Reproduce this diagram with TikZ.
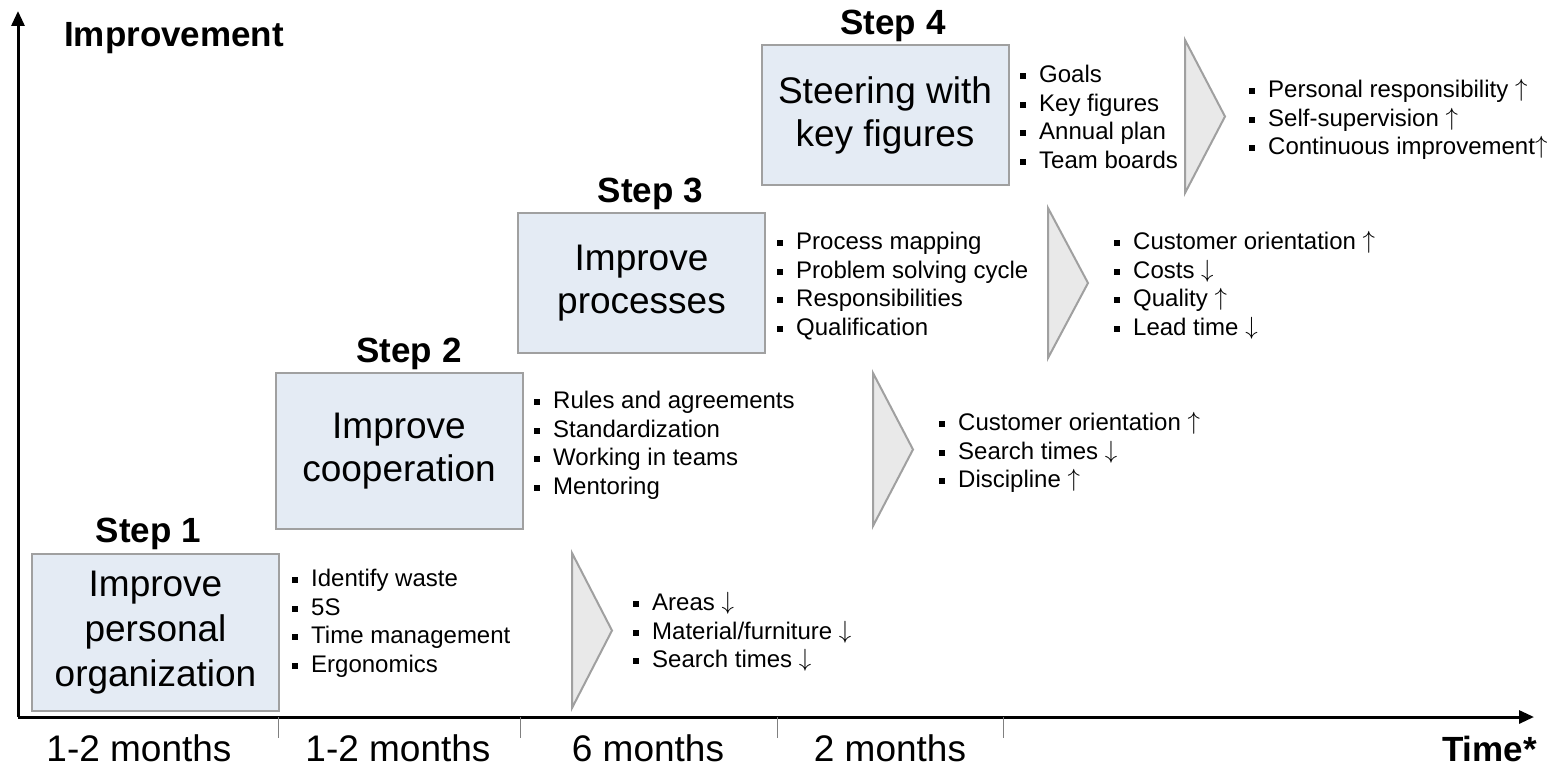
\documentclass[tikz,border=0pt]{standalone}
\usepackage{fontspec}
\setmainfont{Liberation Sans}
\usetikzlibrary{positioning,arrows.meta}
\definecolor{boxfill}{RGB}{228,235,244}
\definecolor{boxline}{RGB}{160,160,160}
\definecolor{chevfill}{RGB}{233,233,233}
\newcommand\incr{\raisebox{1pt}{$\uparrow$}}
\newcommand\decr{\raisebox{1pt}{$\downarrow$}}
\tikzset{x=1pt, y=-1pt,
  stepbox/.style={draw=boxline, fill=boxfill, line width=2pt, inner sep=0pt, align=center,
    minimum width=247pt, font=\fontsize{37}{43}\selectfont},
  steplabel/.style={inner sep=0pt, font=\bfseries\fontsize{35}{40}\selectfont},
  item/.style={anchor=base west, inner sep=0pt, font=\fontsize{24}{28}\selectfont,
    execute at begin node={\rule[3.5pt]{6pt}{6pt}\hspace{13pt}}},
  chevron/.style={draw=boxline, fill=chevfill, line width=2pt, line join=miter},
  axis/.style={line width=3pt, -{Triangle[length=15pt,width=13pt]}},
  tick/.style={draw=gray, line width=1pt},
  month/.style={anchor=base, inner sep=0pt, font=\fontsize{37}{43}\selectfont}}

\begin{document}
\begin{tikzpicture}
  \useasboundingbox (0,0) rectangle (1554,776);
  % axes
  \coordinate (o) at (18,717);
  \coordinate (ytop) at (18,11);
  \coordinate (xend) at (1534,717);
  \draw[axis] (o) -- (ytop);
  \draw[axis] (o) -- (xend);
  \foreach \x in {278,520,777,1003}
    \draw[tick] (\x,717) -- (\x,738);
  \node[steplabel, anchor=base west] (ylab) at (64,47) {Improvement};
  \node[steplabel, anchor=base east] (xlab) at (1537,761) {Time*};
  \node[month] (m1) at (139,761) {1-2 months};
  \node[month] (m2) at (398,761) {1-2 months};
  \node[month] (m3) at (648,761) {6 months};
  \node[month] (m4) at (890,761) {2 months};

  % steps
  \node[stepbox, minimum height=157pt, font=\fontsize{37}{45}\selectfont] (s1) at (155.5,632.5)
    {Improve\\personal\\organization};
  \node[stepbox, minimum height=156pt] (s2) at (399,451)
    {Improve\\cooperation};
  \node[stepbox, minimum height=140pt] (s3) at (641.5,283)
    {Improve\\processes};
  \node[stepbox, minimum height=140pt] (s4) at (885,115)
    {Steering with\\key figures};
  \node[steplabel, above=3pt of s1, xshift=-7pt] (t1) {Step 1};
  \node[steplabel, above=2pt of s2, xshift=10pt] (t2) {Step 2};
  \node[steplabel, above=2pt of s3, xshift=9pt] (t3) {Step 3};
  \node[steplabel, above=2pt of s4, xshift=8pt] (t4) {Step 4};

  % chevrons
  \foreach \x/\t/\b in {572/553/708, 873/373/526, 1048/208/358, 1185/40/193}
    \draw[chevron] (\x,\t) -- ({\x+40},{(\t+\b)/2}) -- (\x,\b) -- cycle;

  % measures
  \foreach \t [count=\i] in {Identify waste, 5S, Time management, Ergonomics}
    \node[item] (a1-\i) at (292,{558+28.5*\i}) {\t};
  \foreach \t [count=\i] in {Rules and agreements, Standardization, Working in teams, Mentoring}
    \node[item] (a2-\i) at (534,{380+28.5*\i}) {\t};
  \foreach \t [count=\i] in {Process mapping, Problem solving cycle, Responsibilities, Qualification}
    \node[item] (a3-\i) at (777,{221+28.5*\i}) {\t};
  \foreach \t [count=\i] in {Goals, Key figures, Annual plan, Team boards}
    \node[item] (a4-\i) at (1020,{54+28.5*\i}) {\t};

  % effects
  \foreach \t [count=\i] in {Areas \decr, Material/furniture \decr, Search times \decr}
    \node[item] (r1-\i) at (633,{582+28.5*\i}) {\t};
  \foreach \t [count=\i] in {Customer orientation \incr, Search times \decr, Discipline \incr}
    \node[item] (r2-\i) at (939,{402+28.5*\i}) {\t};
  \foreach \t [count=\i] in {Customer orientation \incr, Costs \decr, Quality \incr, Lead time \decr}
    \node[item] (r3-\i) at (1114,{221+28.5*\i}) {\t};
  \foreach \t [count=\i] in {Personal responsibility \incr, Self-supervision \incr, Continuous improvement\incr}
    \node[item] (r4-\i) at (1249,{69+28.5*\i}) {\t};
\end{tikzpicture}
\end{document}
